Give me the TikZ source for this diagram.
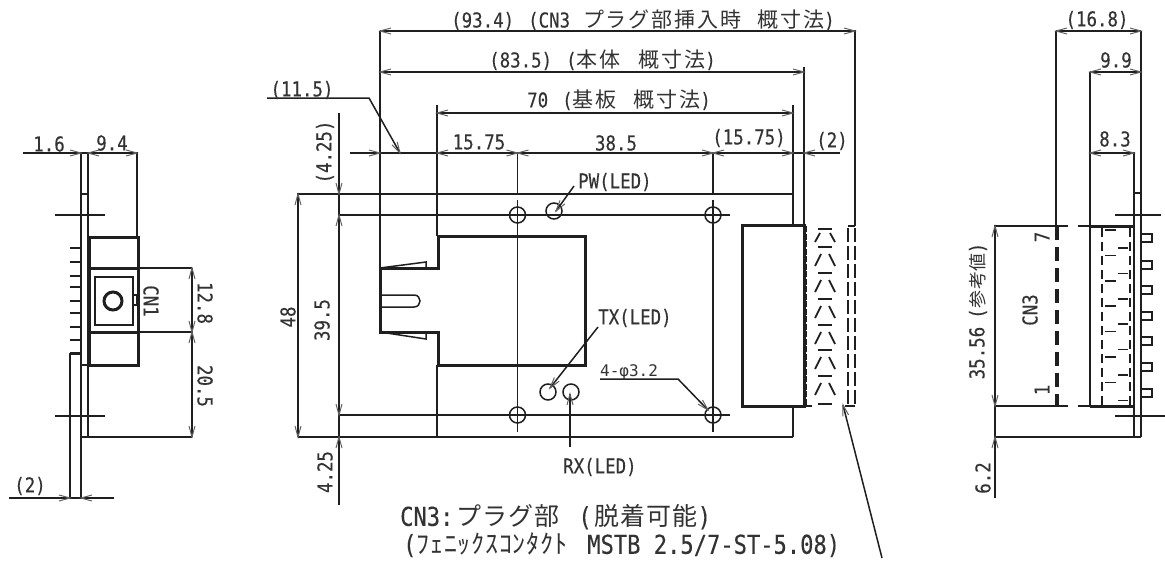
\documentclass[tikz,border=0pt]{standalone}
\usepackage{fontspec}
\setmainfont[FakeStretch=0.85,FakeBold=0.25]{DejaVu Sans Mono}
\newfontfamily\plainm{DejaVu Sans Mono}
\newfontfamily\jpf{Noto Sans CJK JP}[LetterSpace=9]
\newfontfamily\jpg{Noto Sans CJK JP}[LetterSpace=4]
\newfontfamily\jph{Noto Sans CJK JP}[LetterSpace=3]
\definecolor{ink}{gray}{0.12}
\definecolor{txt}{gray}{0.2}
\tikzset{
  thinl/.style={draw=ink,line width=1.5pt},
  thickl/.style={draw=ink,line width=3pt},
  barbl/.style={draw=ink!70,line width=1pt},
  lbl/.style={inner sep=0pt,text=txt,font=\fontsize{20.5}{22}\selectfont},
  big/.style={inner sep=0pt,text=txt,font=\fontsize{26}{28}\selectfont},
  smalll/.style={inner sep=0pt,text=txt,font=\plainm\fontsize{16}{18}\selectfont},
  dashl/.style={draw=ink,line width=2pt,dash pattern=on 11pt off 3.5pt},
}
\newcommand{\brb}[3]{\draw[barbl,shift={(#1,#2)},rotate=#3] (-11,-3) -- (0,0) -- (-11,3);}
\newcommand{\jt}[1]{{\jpf\fontsize{21}{23}\selectfont #1}}
\begin{document}
\begin{tikzpicture}[x=1pt,y=-1pt]
\useasboundingbox[fill=white] (0,0) rectangle (1165,562);
% ---------- left view
\draw[thinl] (23,153) -- (137,153) -- (137,237);
\draw[thinl] (81,153) -- (81,498);
\draw[thinl] (88,153) -- (88,437) -- (192,437);
\draw[thinl] (81,194) -- (88,194) (81,365) -- (88,365) (81,437) -- (88,437);
\draw[thinl] (70,353) -- (70,498);
\draw[thickl] (70,353) -- (81,353);
\draw[thinl] (9,498) -- (114,498);
\draw[thinl] (55,215) -- (105,215) (55,416) -- (105,416);
\draw[thickl] (89,237) rectangle (138,365);
\draw[thickl] (89,268) -- (138,268) (89,332) -- (138,332);
\draw[thinl] (95,277) rectangle (133,325);
\draw[thinl] (133,295) rectangle (137,305);
\draw[draw=ink,line width=3pt] (113,301) circle (9);
\foreach \y in {248,262,276,287,301,313,327,340}{\draw[draw=ink,line width=2.4pt] (70,\y) -- (80,\y);}
\draw[thinl] (138,268) -- (192,268) (138,332) -- (192,332) (192,268) -- (192,437);
\brb{81}{153}{0}\brb{88}{153}{180}\brb{137}{153}{0}
\brb{70}{498}{0}\brb{81}{498}{180}
\brb{192}{268}{90}\brb{192}{332}{270}\brb{192}{332}{90}\brb{192}{437}{270}
\node[lbl] (t16) at (49,144) {1.6};
\node[lbl] (t94) at (112,143) {9.4};
\node[lbl] (tp2) at (30,486) {(2)};
\node[lbl,rotate=-90] (tcn1) at (151,301) {CN1};
\node[lbl,rotate=-90] (t128) at (205,303) {12.8};
\node[lbl,rotate=-90] (t205) at (205,386) {20.5};
% ---------- middle view: dimension and outline lines
\draw[thinl] (380,31) -- (855,31) -- (855,226);
\draw[thinl] (380,72) -- (804,72);
\draw[thinl] (804,67) -- (804,225);
\draw[thinl] (437,113) -- (793,113);
\draw[thinl] (380,31) -- (380,268);
\draw[thinl] (437,105) -- (437,236) (437,365) -- (437,437);
\draw[thinl] (793,105) -- (793,225) (793,406) -- (793,437);
\draw[thinl] (350,153) -- (840,153);
\draw[thinl] (267,98) -- (369,98) -- (400,153);
\draw[thinl] (339,113) -- (339,505);
\draw[thinl] (298,437) -- (298,194) -- (793,194);
\draw[thinl] (298,437) -- (793,437);
\draw[thinl] (339,215) -- (730,215) (339,415) -- (730,415);
\draw[thickl] (380,268) -- (438,268) -- (438,236) -- (585,236) -- (585,365) -- (438,365) -- (438,332) -- (380,332) -- cycle;
\draw[thinl] (517.5,153) -- (517.5,193) (517.5,200) -- (517.5,432);
\draw[thinl] (713,153) -- (713,193) (713,200) -- (713,432);
\foreach \x/\y in {517.5/215,713/215,517.5/415,713/415}{\draw[thinl] (\x,\y) circle (8);}
\draw[thinl] (554,211) circle (8) (548,392) circle (8) (571,392) circle (8);
\draw[thinl] (380,268) -- (426,262) -- (426,268);
\draw[thinl] (380,332) -- (426,339) -- (426,332);
\draw[thinl] (380,295) -- (414,295) .. controls (422,295) and (422,307) .. (414,307) -- (380,307);
\draw[thickl] (742,225) rectangle (804,406);
% plug
\draw[draw=ink,line width=2.4pt,dash pattern=on 6pt off 1.5pt] (806,226) -- (806,406);
\draw[draw=ink,line width=2pt] (804,406) -- (812,406) (818,404) -- (832,404) (845,406) -- (855,406);
\draw[thinl] (848,226) -- (855,226);
\draw[draw=ink,line width=1.8pt] (818,229) -- (832,229);
\foreach \y in {247,273,299,325,350,376}{
  \draw[draw=ink,line width=1.8pt] (818,\y) -- (832,\y);
  \draw[draw=ink,line width=1.8pt] (821,\y+7) -- (815,\y+19) (829,\y+7) -- (835,\y+19);}
\draw[draw=ink,line width=1.8pt] (820,233) -- (815,242) (830,233) -- (835,242);
\draw[draw=ink,line width=1.7pt,dash pattern=on 14pt off 4pt] (848,228) -- (848,406);
\draw[draw=ink,line width=1.7pt,dash pattern=on 14pt off 4pt] (855,228) -- (855,406);
\draw[thinl] (882,558) -- (843,405);
\draw[thinl] (598,327) -- (550,388);
\draw[thinl] (574,186) -- (556,211);
\draw[thinl] (570,447) -- (570,394);
\draw[thinl] (600,379) -- (678,379) -- (708,410);
\brb{380}{31}{180}\brb{855}{31}{0}\brb{380}{72}{180}\brb{804}{72}{0}\brb{437}{113}{180}\brb{793}{113}{0}
\brb{380}{153}{0}\brb{437}{153}{180}\brb{517.5}{153}{0}\brb{517.5}{153}{180}\brb{713}{153}{0}\brb{713}{153}{180}\brb{793}{153}{0}\brb{804}{153}{180}
\brb{400}{153}{-60.6}
\brb{298}{194}{90}\brb{298}{437}{270}
\brb{339}{194}{270}\brb{339}{215}{90}\brb{339}{415}{270}\brb{339}{437}{90}
\brb{556}{211}{-126}\brb{550}{388}{-128}\brb{570}{394}{90}\brb{708}{410}{-46}\brb{843}{405}{104}
\node[lbl,anchor=west] (t934) at (451,20) {(93.4)\hspace{14pt}(CN3\hspace{13pt}\jt{プラグ部挿入時}\hspace{16pt}\jt{概寸法})};
\node[lbl,anchor=west] (t835) at (489,60) {(83.5)\hspace{14pt}(\jt{本体}\hspace{18pt}\jt{概寸法})};
\node[lbl,anchor=west] (t70) at (527,100) {70\hspace{14pt}(\jt{基板}\hspace{17pt}\jt{概寸法})};
\node[lbl] (t115) at (302,90) {(11.5)};
\node[lbl] (a1575) at (479,142) {15.75};
\node[lbl] (t385) at (616,143) {38.5};
\node[lbl] (b1575) at (749,138) {(15.75)};
\node[lbl] (tq2) at (832,141) {(2)};
\node[lbl,rotate=90] (t425a) at (325,152) {(4.25)};
\node[lbl,rotate=90] (t425b) at (325,472) {4.25};
\node[lbl,rotate=90] (t48) at (288,317) {48};
\node[lbl,rotate=90] (t395) at (322,320) {39.5};
\node[lbl,anchor=west] (tpw) at (578,182) {PW(LED)};
\node[lbl,anchor=west] (ttx) at (598,318) {TX(LED)};
\node[lbl,anchor=west] (trx) at (563,467) {RX(LED)};
\node[smalll,anchor=west] (tphi) at (600,372) {4-φ3.2};
\node[big,anchor=west] (tcn3) at (400,517) {CN3:\hspace{3pt}{\jpg\fontsize{25}{27}\selectfont プラグ部}\hspace{19pt}(\hspace{3pt}{\jpg\fontsize{25}{27}\selectfont 脱着可能})};
\node[big,anchor=west] (tphx) at (403,545) {({\jph\fontsize{26}{28}\selectfont ﾌｪﾆｯｸｽｺﾝﾀｸﾄ}\hspace{20pt}MSTB 2.5/7-ST-5.08)};
% ---------- right view
\draw[thinl] (1056,31) -- (1141,31);
\draw[thinl] (1056,31) -- (1056,226);
\draw[thinl] (1090,72) -- (1141,72);
\draw[thinl] (1090,72) -- (1090,406);
\draw[thinl] (1141,31) -- (1141,437);
\draw[thinl] (1090,153) -- (1134,153) -- (1134,437);
\draw[thinl] (1134,193) -- (1141,193);
\draw[thinl] (1115,215) -- (1161,215) (1115,416) -- (1165,416);
\draw[thinl] (995,498) -- (995,226) -- (1068,226) (1078,226) -- (1134,226);
\draw[thinl] (995,406) -- (1068,406) (1078,406) -- (1134,406);
\draw[thinl] (995,437) -- (1141,437);
\draw[thickl] (1090,226) -- (1134,226) (1090,406.5) -- (1134,406.5);
\draw[draw=ink,line width=3.4pt,dash pattern=on 14pt off 7pt] (1057,226) -- (1057,406);
\foreach \y in {238,265,290,316,341,367,393}{\draw[draw=ink,line width=1.7pt] (1141,\y-4) -- (1152,\y-4) -- (1152,\y+4) -- (1141,\y+4);}
\draw[draw=ink,line width=1.5pt,dash pattern=on 9pt off 5pt] (1102,228) -- (1102,406);
\draw[draw=ink,line width=1.5pt,dash pattern=on 9pt off 5pt] (1130,228) -- (1130,406);
\foreach \y in {230,255.4,280.8,306.2,331.6,357,382.4}{\draw[draw=ink,line width=1.5pt] (1105,\y) -- (1116,\y) (1118,\y+18) -- (1128,\y+18);}
\brb{1056}{31}{180}\brb{1141}{31}{0}\brb{1090}{72}{180}\brb{1141}{72}{0}\brb{1090}{153}{180}\brb{1134}{153}{0}
\brb{995}{226}{90}\brb{995}{406}{270}\brb{995}{437}{90}
\node[lbl] (t168) at (1097,20) {(16.8)};
\node[lbl] (t99) at (1116,60) {9.9};
\node[lbl] (t83) at (1115,139) {8.3};
\node[lbl,rotate=90] (t3556) at (978,311) {35.56\hspace{8pt}({\jph\fontsize{18}{20}\selectfont 参考値})};
\node[lbl,rotate=90] (tcn3r) at (1030,310) {CN3};
\node[lbl,rotate=90] (t7) at (1042,237) {7};
\node[lbl,rotate=90] (t1) at (1042,390) {1};
\node[lbl,rotate=90] (t62) at (983,478) {6.2};
\end{tikzpicture}
\end{document}
